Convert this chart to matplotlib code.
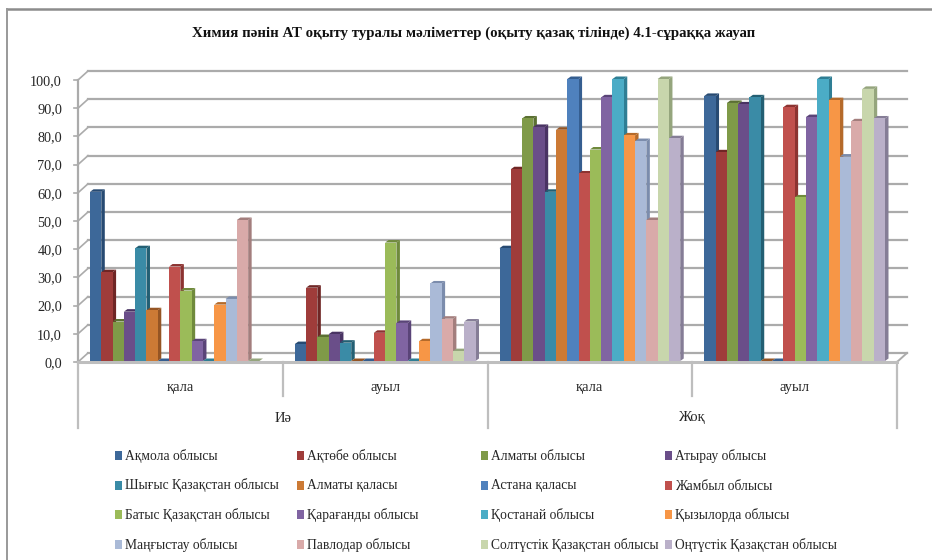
import matplotlib
matplotlib.use("Agg")
import matplotlib.pyplot as plt
from matplotlib.patches import Polygon, Rectangle
from matplotlib.lines import Line2D

plt.rcParams['font.family'] = ['Liberation Serif', 'DejaVu Serif']

title = "Химия пәнін АТ оқыту туралы мәліметтер (оқыту қазақ тілінде) 4.1-сұраққа жауап"
series_names = ["Ақмола облысы", "Ақтөбе облысы", "Алматы облысы", "Атырау облысы",
                "Шығыс Қазақстан облысы", "Алматы қаласы", "Астана қаласы", "Жамбыл облысы",
                "Батыс Қазақстан облысы", "Қарағанды облысы", "Қостанай облысы", "Қызылорда облысы",
                "Маңғыстау облысы", "Павлодар облысы", "Солтүстік Қазақстан облысы", "Оңтүстік Қазақстан облысы"]
colors = ["#3D6899", "#9F3C3A", "#7F9A48", "#6A4E89", "#3A8BA6", "#CC7A35", "#4F81BD", "#C0504D",
          "#9BBB59", "#8064A2", "#4BACC6", "#F79646", "#AABAD7", "#D9AAA9", "#C8D6AC", "#BAB0C9"]
sides = ["#274A72", "#6F2625", "#5B7032", "#493363", "#235F73", "#955524", "#355E90", "#8C3331",
         "#6F8A3C", "#5A4478", "#2F7E94", "#B56A2A", "#7B8CAC", "#A37E7D", "#95A57D", "#857D96"]
inner_labels = ["қала", "ауыл", "қала", "ауыл"]
outer_labels = ["Иә", "Жоқ"]
v_ia_kala = [60, 31.5, 14, 17.5, 40, 18, 0, 33.5, 25, 7, 0, 20, 22, 50, 0, None]
v_ia_auyl = [6, 26, 8.5, 9.5, 6.5, 0, 0, 10, 42, 13.5, 0, 7, 27.5, 15, 3.5, 14]
v_zhoq_kala = [40, 68, 86, 83, 60, 82, 100, 66.5, 75, 93.5, 100, 80, 78, 50, 100, 79]
v_zhoq_auyl = [94, 74, 91.5, 91, 93.5, 0, 0, 90, 58, 86.5, 100, 92.5, 72.5, 85, 96.5, 86]
groups = [v_ia_kala, v_ia_auyl, v_zhoq_kala, v_zhoq_auyl]
y_ticks = list(range(0, 101, 10))

W, H = 932, 560
fig = plt.figure(figsize=(W / 100, H / 100), dpi=100, facecolor="white")
fx = lambda p: p / W
fy = lambda p: 1 - p / H
L, R, B, T = 78, 897, 362, 80
ax = fig.add_axes([L / W, 1 - B / H, (R - L) / W, (B - T) / H])
ax.set_xlim(0, 4)
ax.set_ylim(0, 100)
ax.patch.set_alpha(0)
for s in ax.spines.values():
    s.set_visible(False)
ax.tick_params(left=False, bottom=False)
ax.set_xticks([])
ax.set_yticks(y_ticks)
ax.set_yticklabels([f"{t},0" for t in y_ticks], fontsize=10.3, color="#262626")
ax.tick_params(axis='y', pad=8)

# outer frame: top and left edges only
fig.add_artist(Line2D([fx(6.5), 1], [fy(9), fy(9)], color="#8C8C8C", lw=1.8))
fig.add_artist(Line2D([fx(6.5), fx(6.5)], [fy(9), 0], color="#999999", lw=1.4))

px = (R - L) / 4            # pixels per category
py = (B - T) / 100          # pixels per value unit
depth_x, depth_y = 10 / px, 9 / py
grid = "#ABABAB"
for t in y_ticks:
    ax.plot([depth_x, 4 + depth_x], [t + depth_y, t + depth_y], color=grid, lw=1.6, clip_on=False, zorder=1)
    ax.plot([0, depth_x], [t, t + depth_y], color=grid, lw=1.2, clip_on=False, zorder=1)
    ax.plot([-4 / px, 0], [t, t], color=grid, lw=1.2, clip_on=False, zorder=1)
ax.plot([0, 0], [0, 100], color=grid, lw=1.6, clip_on=False, zorder=1)
ax.plot([4, 4 + depth_x], [0, depth_y], color=grid, lw=1.4, clip_on=False, zorder=1)
ax.plot([0, 4], [0, 0], color="#BEBEBE", lw=2.2, clip_on=False, zorder=1)

# bars
margin = 12 / px
bw = (1 - 2 * margin) / len(series_names)
bdx, bdy = 3.5 / px, 2.5 / py
lift = 1 / py
z = 2
for g, vals in enumerate(groups):
    for i, v in enumerate(vals):
        if v is None:
            continue
        x0 = g + margin + i * bw
        ax.bar(x0, v, width=bw, bottom=lift, align='edge', color=colors[i], linewidth=0, zorder=z + 2, clip_on=False)
        top = v + lift
        ax.add_patch(Polygon([(x0 + bw, lift), (x0 + bw + bdx, lift + bdy), (x0 + bw + bdx, top + bdy), (x0 + bw, top)],
                             closed=True, fc=sides[i], ec="none", zorder=z, clip_on=False))
        ax.add_patch(Polygon([(x0, top), (x0 + bdx, top + bdy), (x0 + bw + bdx, top + bdy), (x0 + bw, top)],
                             closed=True, fc=sides[i], ec="none", zorder=z + 1, clip_on=False))
        z += 3

# multi-level category axis
for k in range(5):
    xk = fx(L + k * px)
    fig.add_artist(Line2D([xk, xk], [fy(B), fy(428 if k % 2 == 0 else 396)], color="#BEBEBE", lw=1.6))
for k, lab in enumerate(inner_labels):
    fig.text(fx(L + (k + .5) * px), fy(388), lab, ha='center', va='center', fontsize=10.5, color="#262626")
for k, lab in enumerate(outer_labels):
    fig.text(fx(L + (2 * k + 1) * px), fy(418), lab, ha='center', va='center', fontsize=10.5, color="#262626")

fig.text(fx(473.5), fy(33), title, ha='center', va='center', fontsize=10.7, fontweight='bold', color="#111111")

# legend: four columns read row by row
col_x = [115, 297, 481, 665]
row_y = [455.5, 485, 514.5, 544]
for n, name in enumerate(series_names):
    cx, cy = col_x[n % 4], row_y[n // 4]
    fig.add_artist(Rectangle((fx(cx), fy(cy + 4.5)), 6.5 / W, 9 / H, transform=fig.transFigure,
                             fc=colors[n], ec="none"))
    fig.text(fx(cx + 10), fy(cy + 4.5), name, ha='left', va='baseline', fontsize=9.75, color="#262626")

fig.savefig("out.png", dpi=100)
